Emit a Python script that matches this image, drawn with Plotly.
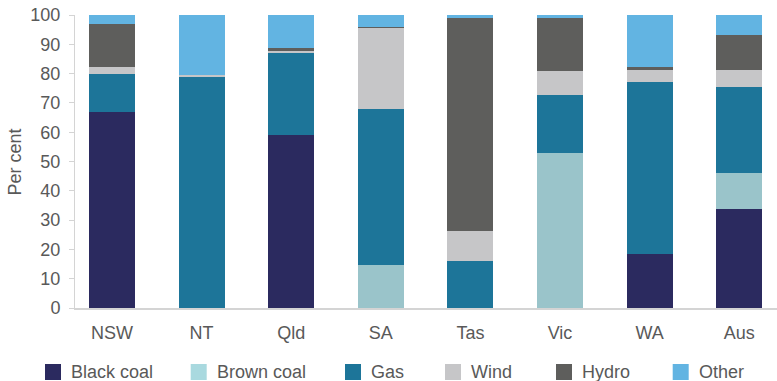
import plotly.graph_objects as go

states = ["NSW", "NT", "Qld", "SA", "Tas", "Vic", "WA", "Aus"]

black_coal = [66.8, 0, 58.9, 0, 0, 0, 18.3, 33.7]
brown_coal = [0, 0, 0, 14.6, 0, 52.8, 0, 12.3]
gas = [12.9, 79.1, 28.4, 53.2, 15.9, 19.8, 58.7, 29.3]
wind = [2.4, 0.3, 0.5, 27.8, 10.3, 8.2, 4.4, 5.9]
hydro = [14.8, 0, 0.9, 0.3, 72.7, 18.1, 0.7, 11.9]
other = [3.2, 20.6, 11.3, 4.1, 1.1, 1.1, 17.9, 6.9]

series_names = ["Black coal", "Brown coal", "Gas", "Wind", "Hydro", "Other"]
series_values = [black_coal, brown_coal, gas, wind, hydro, other]
bar_colors = ["#2B2A5F", "#9AC4CA", "#1D7599", "#C6C6C8", "#5E5E5C", "#62B4E2"]
key_colors = ["#2B2A5F", "#A9D9DF", "#1D7599", "#C6C6C8", "#5E5E5C", "#62B4E2"]

W, H = 777, 381
ML, MR, MT, MB = 75, 0, 15, 73
PW, PH = W - ML - MR, H - MT - MB
font_col = "#595959"
FONT = "Liberation Sans, Arial, sans-serif"


def px_x(p):
    return (p - ML) / PW


def px_y(p):
    return (H - MB - p) / PH


fig = go.Figure()
for name, vals, col in zip(series_names, series_values, bar_colors):
    fig.add_trace(go.Bar(x=states, y=vals, name=name, marker_color=col,
                         marker_line_width=0, showlegend=False))

# key along the bottom: square swatch followed by its label
key_left = [45, 190.7, 345, 445, 556, 672.7]
shapes = []
annotations = []
for name, col, left in zip(series_names, key_colors, key_left):
    shapes.append(dict(type="rect", xref="paper", yref="paper",
                       x0=px_x(left), x1=px_x(left + 16),
                       y0=px_y(380), y1=px_y(364),
                       fillcolor=col, line_width=0, layer="above"))
    annotations.append(dict(text=name, xref="paper", yref="paper",
                            x=px_x(left + 24), y=px_y(372),
                            xanchor="left", yanchor="middle", showarrow=False,
                            font=dict(size=18, color=font_col, family=FONT)))

annotations.append(dict(text="Per cent", xref="paper", yref="paper",
                        x=px_x(14), y=0.5, textangle=-90,
                        xanchor="center", yanchor="middle", showarrow=False,
                        font=dict(size=18, color=font_col, family=FONT)))

fig.update_layout(
    barmode="stack",
    bargap=0.487,
    width=W, height=H,
    margin=dict(l=ML, r=MR, t=MT, b=MB, pad=0),
    plot_bgcolor="white", paper_bgcolor="white",
    font=dict(family=FONT, size=18, color=font_col),
    showlegend=False,
    shapes=shapes,
    annotations=annotations,
    xaxis=dict(showline=True, linecolor="#D4D4D4", linewidth=1.5, ticks="",
               range=[-0.413, 7.422], ticklabelstandoff=8,
               tickfont=dict(size=18, color=font_col), fixedrange=True),
    yaxis=dict(range=[0, 100], dtick=10, showgrid=False, showline=True,
               linecolor="#D4D4D4", linewidth=1, ticks="outside", ticklen=5,
               tickcolor="#D4D4D4", ticklabelstandoff=5,
               tickfont=dict(size=18, color=font_col), zeroline=False),
)

fig.write_html("out.html")
